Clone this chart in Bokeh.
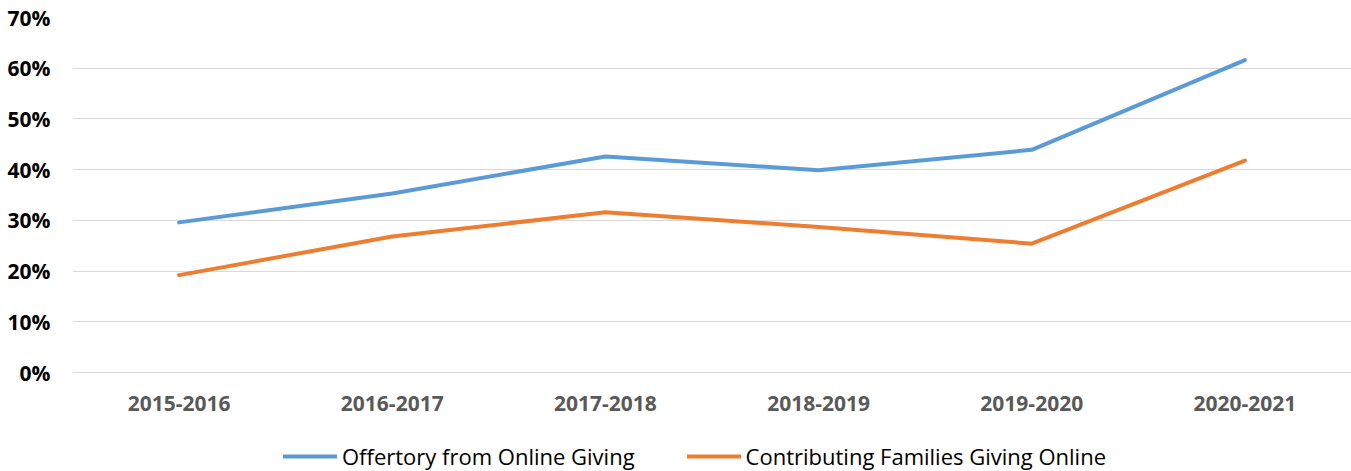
from bokeh.plotting import figure
from bokeh.models import Range1d, FixedTicker, NumeralTickFormatter, Legend, LegendItem
from bokeh.core.properties import value
from bokeh.embed import file_html
from bokeh.resources import INLINE

categories = ["2015-2016", "2016-2017", "2017-2018", "2018-2019", "2019-2020", "2020-2021"]
offertory_online = [0.296, 0.353, 0.426, 0.399, 0.439, 0.616]
families_online = [0.192, 0.268, 0.316, 0.287, 0.254, 0.418]
y_ticks = [0.0, 0.1, 0.2, 0.3, 0.4, 0.5, 0.6, 0.7]
series_names = ["Offertory from Online Giving", "Contributing Families Giving Online"]
colors = ["#5B9BD5", "#ED7D31"]

# frame spans the full lower area so the legend sits inside it; 0% stays at the baseline
p = figure(width=1351, height=471, output_backend="svg", toolbar_location=None,
           x_range=categories, y_range=Range1d(-0.1952, 0.7), x_axis_location=None,
           min_border_left=72, min_border_right=0, min_border_top=17, min_border_bottom=0)
p.outline_line_color = None
p.background_fill_color = "white"
p.border_fill_color = "white"

r1 = p.line(categories, offertory_online, line_color=colors[0], line_width=4,
            line_cap="round", line_join="round")
r2 = p.line(categories, families_online, line_color=colors[1], line_width=4,
            line_cap="round", line_join="round")

# category labels under the 0% baseline
p.text(x=categories, y=[y_ticks[0]] * len(categories), text=categories,
       y_offset=31, text_align="center", text_baseline="middle",
       text_font=value("Open Sans"), text_font_style="bold",
       text_font_size="21px", text_color="#595959")
p.xgrid.grid_line_color = None

# y axis
p.yaxis.ticker = FixedTicker(ticks=y_ticks)
p.yaxis.formatter = NumeralTickFormatter(format="0%")
p.yaxis.axis_line_color = None
p.yaxis.major_tick_line_color = None
p.yaxis.minor_tick_line_color = None
p.yaxis.major_label_standoff = 16
p.yaxis.major_label_text_font = "Open Sans"
p.yaxis.major_label_text_font_style = "bold"
p.yaxis.major_label_text_font_size = "21px"
p.yaxis.major_label_text_color = "#000000"
p.ygrid.grid_line_color = "#D9D9D9"
p.ygrid.grid_line_width = 1.2

legend = Legend(items=[LegendItem(label=series_names[0], renderers=[r1]),
                       LegendItem(label=series_names[1], renderers=[r2])],
                orientation="horizontal", location=(211, 0),
                padding=0, margin=0, spacing=52, label_standoff=5,
                glyph_width=54, glyph_height=20,
                border_line_color=None, background_fill_alpha=0)
legend.label_text_font = "Open Sans"
legend.label_text_font_size = "22px"
legend.label_text_color = "#000000"
p.add_layout(legend, "center")

open("out.html", "w").write(file_html(p, INLINE))
